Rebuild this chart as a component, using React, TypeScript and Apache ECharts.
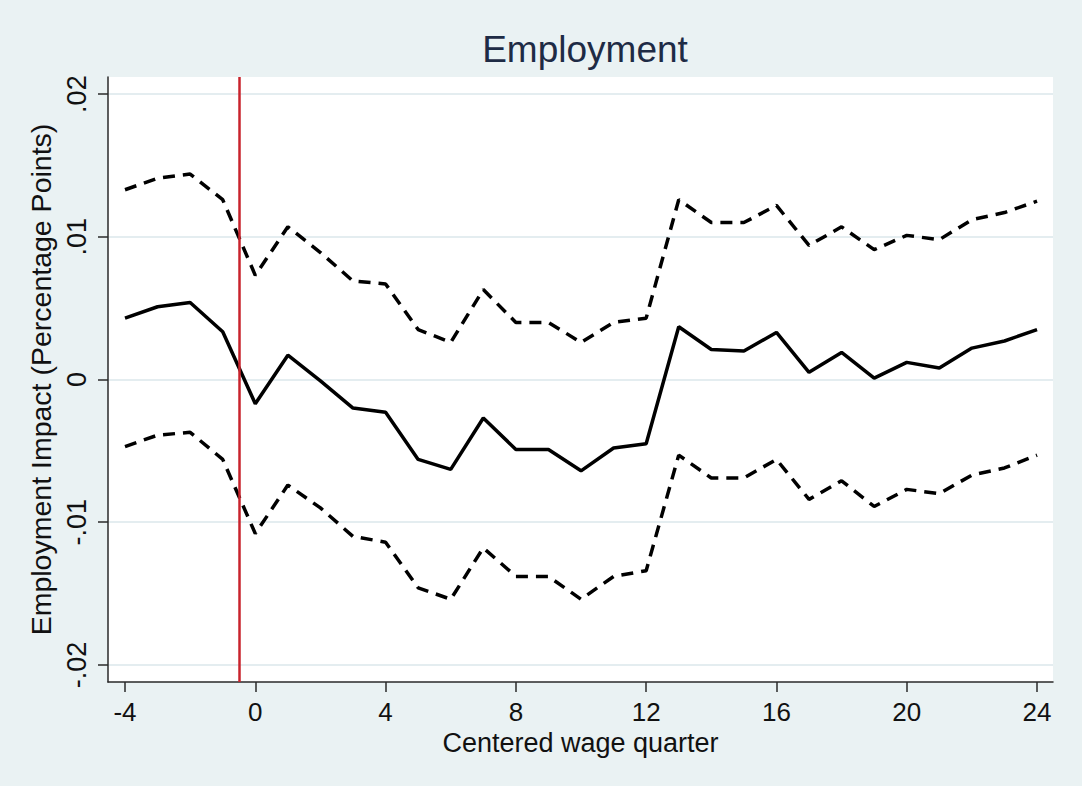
import React, { useEffect, useRef } from "react";
import * as echarts from "echarts";

const quarters = [-4, -3, -2, -1, 0, 1, 2, 3, 4, 5, 6, 7, 8, 9, 10, 11, 12, 13, 14, 15, 16, 17, 18, 19, 20, 21, 22, 23, 24];
const estimate = [0.0043, 0.0051, 0.0054, 0.00335, -0.0017, 0.0017, -0.0001, -0.002, -0.0023, -0.0056, -0.0063, -0.0027, -0.0049, -0.0049, -0.0064, -0.0048, -0.0045, 0.0037, 0.0021, 0.002, 0.0033, 0.0005, 0.0019, 0.0001, 0.0012, 0.0008, 0.0022, 0.0027, 0.0035];
const upperCI = [0.0133, 0.0141, 0.0144, 0.0126, 0.0073, 0.0107, 0.0089, 0.0069, 0.0067, 0.0035, 0.0026, 0.0063, 0.0040, 0.0040, 0.0026, 0.0040, 0.0043, 0.0126, 0.0110, 0.0110, 0.0122, 0.0094, 0.0107, 0.0091, 0.0101, 0.0098, 0.0112, 0.0117, 0.0125];
const lowerCI = [-0.0047, -0.0039, -0.0037, -0.0056, -0.0108, -0.0074, -0.0090, -0.0110, -0.0114, -0.0146, -0.0154, -0.0118, -0.0138, -0.0138, -0.0154, -0.0138, -0.0134, -0.0053, -0.0069, -0.0069, -0.0056, -0.0084, -0.0071, -0.0089, -0.0077, -0.0080, -0.0067, -0.0062, -0.0053];
const xTicks = [-4, 0, 4, 8, 12, 16, 20, 24];
const yTicks = [-0.02, -0.01, 0, 0.01, 0.02];
const yTickLabels = ["-.02", "-.01", "0", ".01", ".02"];
const eventQuarter = -0.5;

const FONT = "'Liberation Sans', Arial, Helvetica, sans-serif";

function pairs(ys: number[]) {
  return quarters.map((q, i) => [q, ys[i]]);
}

export default function App() {
  const ref = useRef<HTMLDivElement>(null);
  useEffect(() => {
    if (!ref.current) return;
    const chart = echarts.init(ref.current, undefined, { renderer: "svg" });
    const axisColor = "#2a2a2a";
    chart.setOption({
      animation: false,
      backgroundColor: "#eaf2f3",
      textStyle: { fontFamily: FONT },
      title: {
        text: "Employment",
        left: 580,
        top: 26,
        textAlign: "center",
        textStyle: { fontFamily: FONT, fontSize: 37, fontWeight: "normal", color: "#1e2b45" },
      },
      grid: {
        left: 108,
        right: 29,
        top: 77,
        bottom: 104,
        show: true,
        backgroundColor: "#ffffff",
        borderWidth: 0,
      },
      xAxis: {
        type: "value",
        min: -4.522,
        max: 24.49,
        axisLine: { show: true, onZero: false, lineStyle: { color: axisColor, width: 1.5 } },
        axisTick: { show: true, customValues: xTicks, length: 10, lineStyle: { color: axisColor, width: 1.5 } },
        axisLabel: { customValues: xTicks, fontSize: 26, margin: 17, color: "#111", fontFamily: FONT },
        splitLine: { show: false },
        name: "Centered wage quarter",
        nameLocation: "middle",
        nameGap: 42,
        nameTextStyle: { fontSize: 27, color: "#111", fontFamily: FONT },
      },
      yAxis: {
        type: "value",
        min: -0.0212,
        max: 0.0212,
        axisLine: { show: true, onZero: false, lineStyle: { color: axisColor, width: 1.5 } },
        axisTick: { show: true, customValues: yTicks, length: 10, lineStyle: { color: axisColor, width: 1.5 } },
        axisLabel: {
          customValues: yTicks,
          rotate: 90,
          fontSize: 27,
          margin: 18,
          color: "#111",
          fontFamily: FONT,
          formatter: (v: number) => {
            let best = 0;
            yTicks.forEach((t, i) => {
              if (Math.abs(t - v) < Math.abs(yTicks[best] - v)) best = i;
            });
            return yTickLabels[best];
          },
        },
        splitLine: { show: true, lineStyle: { color: "#e4edf0", width: 2 } },
        name: "Employment Impact (Percentage Points)",
        nameLocation: "middle",
        nameGap: 50,
        nameTextStyle: { fontSize: 28.5, color: "#111", fontFamily: FONT },
      },
      series: [
        {
          type: "line",
          name: "event",
          z: 1,
          data: [[eventQuarter, 0]],
          symbol: "none",
          lineStyle: { width: 0, opacity: 0 },
          silent: true,
          markLine: {
            silent: true,
            symbol: "none",
            label: { show: false },
            lineStyle: { color: "#c8232c", width: 2.5, type: "solid" },
            data: [{ xAxis: eventQuarter }],
          },
        },
        {
          type: "line",
          name: "upper",
          z: 3,
          data: pairs(upperCI),
          symbol: "none",
          lineStyle: { color: "#000", width: 3.5, type: [12, 8] },
        },
        {
          type: "line",
          name: "estimate",
          z: 3,
          data: pairs(estimate),
          symbol: "none",
          lineStyle: { color: "#000", width: 3.5, type: "solid" },
        },
        {
          type: "line",
          name: "lower",
          z: 3,
          data: pairs(lowerCI),
          symbol: "none",
          lineStyle: { color: "#000", width: 3.5, type: [12, 8] },
        },
      ],
    });
    return () => chart.dispose();
  }, []);
  return (
    <div
      ref={ref}
      style={{ position: "fixed", left: 0, top: 0, width: 1082, height: 786 }}
    />
  );
}
